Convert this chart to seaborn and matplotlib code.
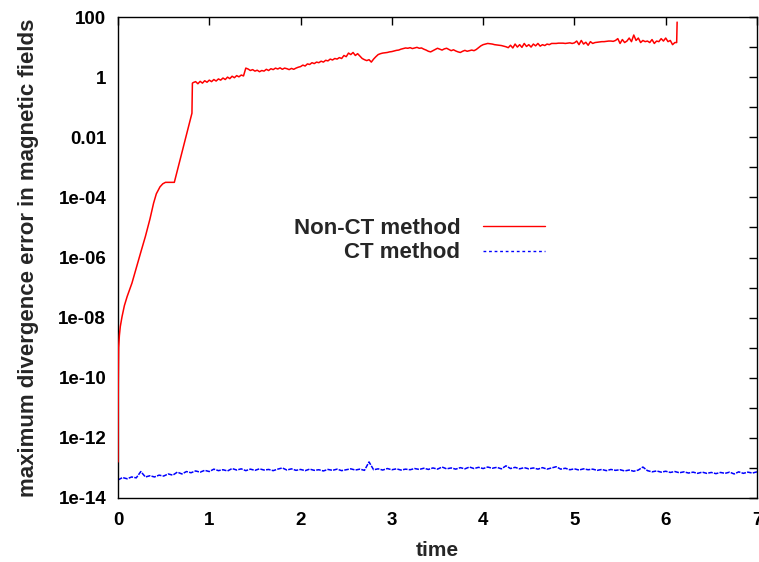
import numpy as np
import matplotlib
matplotlib.use("Agg")
import matplotlib.pyplot as plt
from matplotlib.lines import Line2D
import seaborn as sns

# --- data (log10 of the max divergence error) ---
# Non-CT: initial growth phase
red_rise_time = [0.0, 0.001, 0.003, 0.007, 0.015, 0.025, 0.044, 0.07, 0.1, 0.153,
                 0.2, 0.25, 0.3, 0.35, 0.39, 0.42, 0.46, 0.49, 0.52, 0.617, 0.81, 0.815]
red_rise_log10 = [-12.8, -11.5, -10.2, -9.0, -8.6, -8.3, -7.97, -7.6, -7.3, -6.85,
                  -6.35, -5.82, -5.3, -4.72, -4.19, -3.88, -3.65, -3.55, -3.5, -3.5, -1.2, -0.2]

# Non-CT: saturated noisy phase, sampled every 0.025 from t=0.825 to t=6.1
red_noisy_start, red_noisy_stop = 0.825, 6.1
red_noisy_log10 = [
    # 0.825 - 1.375
    -0.18, -0.15, -0.22, -0.14, -0.2, -0.12, -0.17, -0.1, -0.15, -0.08, -0.13, -0.06,
    -0.1, -0.03, -0.08, 0.0, -0.05, 0.03, -0.02, 0.05, 0.01, 0.07, 0.04,
    # 1.4 - 1.975
    0.3, 0.27, 0.22, 0.25, 0.2, 0.23, 0.18, 0.22, 0.2, 0.26, 0.22, 0.28,
    0.25, 0.3, 0.27, 0.31, 0.26, 0.3, 0.28, 0.25, 0.29, 0.26, 0.3, 0.33,
    # 2.0 - 2.975
    0.35, 0.4, 0.37, 0.44, 0.42, 0.48, 0.45, 0.5, 0.48, 0.53,
    0.5, 0.56, 0.54, 0.6, 0.57, 0.62, 0.6, 0.65, 0.62, 0.72,
    0.68, 0.8, 0.75, 0.82, 0.72, 0.78, 0.7, 0.62, 0.58, 0.55,
    0.58, 0.5, 0.6, 0.68, 0.75, 0.78, 0.8, 0.81, 0.82, 0.84,
    # 3.0 - 3.975
    0.85, 0.87, 0.89, 0.9, 0.93, 0.95, 0.97, 0.96, 0.98, 0.95,
    0.97, 0.99, 0.96, 0.97, 0.93, 0.9, 0.86, 0.84, 0.88, 0.92,
    0.96, 0.93, 0.9, 0.94, 0.96, 0.92, 0.88, 0.91, 0.87, 0.84,
    0.82, 0.86, 0.89, 0.86, 0.88, 0.9, 0.88, 0.92, 0.98, 1.04,
    # 4.0 - 4.975
    1.08, 1.1, 1.12, 1.11, 1.1, 1.08, 1.07, 1.06, 1.05, 1.03,
    1.01, 0.98, 1.06, 0.97, 1.1, 1.0, 1.08, 0.99, 1.12, 1.02,
    1.08, 1.0, 1.1, 1.04, 1.12, 1.03, 1.08, 1.05, 1.1, 1.08,
    1.12, 1.12, 1.12, 1.13, 1.13, 1.13, 1.12, 1.13, 1.14, 1.12,
    # 5.0 - 6.1
    1.14, 1.2, 1.08, 1.22, 1.1, 1.16, 1.06, 1.18, 1.12, 1.15,
    1.16, 1.17, 1.18, 1.18, 1.19, 1.2, 1.2, 1.19, 1.22, 1.28,
    1.12, 1.25, 1.15, 1.2, 1.3, 1.18, 1.4, 1.22, 1.3, 1.15,
    1.22, 1.18, 1.2, 1.15, 1.25, 1.12, 1.2, 1.18, 1.28, 1.2,
    1.3, 1.18, 1.22, 1.08, 1.15,
]

# Non-CT: final blow-up
red_end_time = [6.12, 6.125]
red_end_log10 = [1.15, 1.83]

# CT method, sampled every 0.05 from t=0 to t=7
blue_log10 = [
    -13.4, -13.32, -13.36, -13.3, -13.33, -13.12, -13.3, -13.26, -13.3, -13.24,
    -13.27, -13.2, -13.24, -13.14, -13.2, -13.12, -13.16, -13.1, -13.14, -13.08,
    -13.12, -13.04, -13.09, -13.06, -13.1, -13.02, -13.07, -13.03, -13.09, -13.04,
    -13.08, -13.03, -13.07, -13.05, -13.09, -13.04, -13.0, -13.07, -13.03, -13.08,
    -13.05, -13.09, -13.04, -13.08, -13.06, -13.1, -13.05, -13.08, -13.04, -13.09,
    -13.06, -13.03, -13.07, -13.04, -13.08, -12.8, -13.06, -13.03, -13.07, -13.02,
    -13.06, -13.03, -13.07, -13.04, -13.06, -13.02, -13.05, -13.01, -13.05, -13.0,
    -13.04, -12.97, -13.03, -13.0, -13.04, -12.99, -13.03, -12.97, -13.02, -12.98,
    -13.02, -12.97, -13.01, -12.98, -13.03, -12.93, -13.02, -12.98, -13.03, -12.99,
    -13.03, -13.0, -13.04, -12.99, -13.04, -13.0, -12.96, -13.04, -13.01, -13.06,
    -13.03, -13.07, -13.03, -13.06, -13.04, -13.08, -13.05, -13.09, -13.05, -13.08,
    -13.06, -13.1, -13.07, -13.11, -13.07, -12.97, -13.09, -13.13, -13.1, -13.14,
    -13.11, -13.15, -13.12, -13.16, -13.13, -13.17, -13.14, -13.18, -13.14, -13.18,
    -13.15, -13.19, -13.15, -13.18, -13.14, -13.2, -13.13, -13.18, -13.14, -13.17,
    -13.13,
]

yticks_exp = list(range(-14, 3))
xticks = [0, 1, 2, 3, 4, 5, 6, 7]

# --- assemble series ---
red_noisy_time = np.linspace(red_noisy_start, red_noisy_stop, len(red_noisy_log10))
red_time = np.concatenate([red_rise_time, red_noisy_time, red_end_time])
red_err = 10.0 ** np.concatenate([red_rise_log10, red_noisy_log10, red_end_log10])
blue_time = np.linspace(0, 7, len(blue_log10))
blue_err = 10.0 ** np.array(blue_log10)

sns.set_theme(style="white")
plt.rcParams["font.family"] = ["Liberation Sans", "DejaVu Sans"]
plt.rcParams["font.weight"] = "bold"
plt.rcParams["axes.labelweight"] = "bold"

fig = plt.figure(figsize=(7.59, 5.62), dpi=100)
ax = fig.add_axes([118 / 759, 1 - 498 / 562, 639 / 759, 481 / 562])

sns.lineplot(x=red_time, y=red_err, color="#ff0000", lw=1.1, ax=ax,
             sort=False, estimator=None, zorder=3)
sns.lineplot(x=blue_time, y=blue_err, color="#0000ff", lw=1.1, ax=ax,
             sort=False, estimator=None, linestyle=(0, (3.0, 0.8)))

ax.set_yscale("log")
ax.set_xlim(0, 7)
ax.set_ylim(1e-14, 100)

def fmt(e):
    if e == 2:
        return "100"
    if e == 0:
        return "1"
    if e == -2:
        return "0.01"
    return f"1e-{-e:02d}"

ax.set_yticks([10.0 ** e for e in yticks_exp])
ax.set_yticklabels([fmt(e) if e % 2 == 0 else "" for e in yticks_exp])
ax.yaxis.set_minor_locator(matplotlib.ticker.NullLocator())
ax.set_xticks(xticks)
ax.set_xticklabels([str(x) for x in xticks])

ax.tick_params(direction="in", length=6, width=1, top=True, right=True,
               labelsize=13.5, colors="black")
ax.tick_params(axis="y", pad=8.5)
ax.tick_params(axis="x", pad=10)
for s in ax.spines.values():
    s.set_color("black")
    s.set_linewidth(1.0)

ax.set_xlabel("time", fontsize=15, labelpad=9)
ax.set_ylabel("maximum divergence error in magnetic fields", fontsize=16, labelpad=14)

handles = [Line2D([], [], color="#ff0000", lw=1.0),
           Line2D([], [], color="#0000ff", lw=1.0, linestyle=(0, (2.0, 2.0)))]
ax.legend(handles, ["Non-CT method", "CT method"], loc="upper right",
          bbox_to_anchor=(0.668, 0.582), frameon=False, markerfirst=False,
          fontsize=16, handlelength=2.8, handletextpad=1.0, labelspacing=0.15,
          borderpad=0, borderaxespad=0)

fig.savefig("out.png", dpi=100)
